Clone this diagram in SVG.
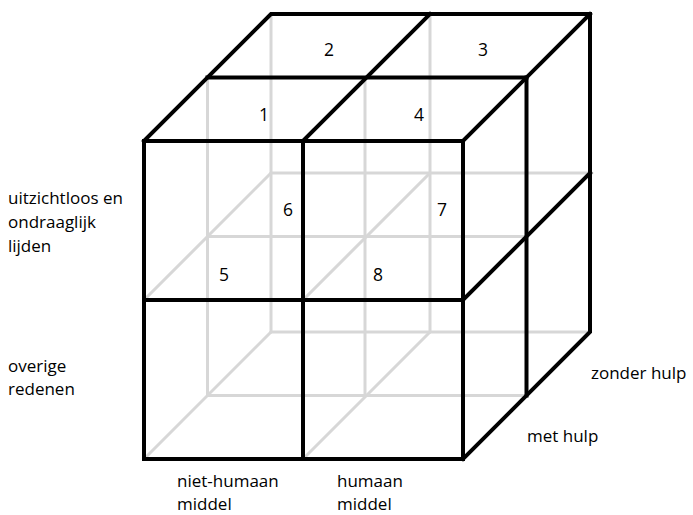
<svg xmlns="http://www.w3.org/2000/svg" width="693" height="515" viewBox="0 0 693 515">
<style>
.hid{stroke:#d7d7d7;stroke-width:3;fill:none;stroke-linecap:round}
.vis{stroke:#000;stroke-width:4;fill:none;stroke-linecap:square;stroke-linejoin:miter}
.lbl{font-family:"Open Sans","Liberation Sans",sans-serif;font-size:17px;fill:#000}
.num{font-family:"Open Sans","Liberation Sans",sans-serif;font-size:17.5px;fill:#000;text-anchor:middle}
</style>
<rect width="693" height="515" fill="#fff"/>
<g id="hidden-edges" class="hid">
<line x1="207.5" y1="77.5" x2="207.5" y2="395.5"/>
<line x1="365" y1="77.5" x2="365" y2="395.5"/>
<line x1="271" y1="14" x2="271" y2="332"/>
<line x1="430" y1="14" x2="430" y2="332"/>
<line x1="207.5" y1="236.5" x2="526.5" y2="236.5"/>
<line x1="207.5" y1="395.5" x2="526.5" y2="395.5"/>
<line x1="271" y1="173" x2="592" y2="173"/>
<line x1="271" y1="332" x2="590" y2="332"/>
<line x1="144" y1="300" x2="271" y2="173"/>
<line x1="303" y1="300" x2="430" y2="173"/>
<line x1="144" y1="459" x2="271" y2="332"/>
<line x1="303" y1="459" x2="430" y2="332"/>
</g>
<g id="visible-edges" class="vis">
<rect x="144" y="141" width="319" height="318"/>
<line x1="303" y1="141" x2="303" y2="459"/>
<line x1="144" y1="300" x2="463" y2="300"/>
<polyline points="144,141 271,14 590,14 590,332 463,459"/>
<line x1="303" y1="141" x2="430" y2="14"/>
<line x1="463" y1="141" x2="590" y2="14"/>
<line x1="207.5" y1="77.5" x2="526.5" y2="77.5"/>
<line x1="526.5" y1="77.5" x2="526.5" y2="395.5"/>
<line x1="463" y1="300" x2="590" y2="173"/>
</g>
<g id="cell-numbers" class="num">
<text x="329" y="56">2</text>
<text x="483" y="56">3</text>
<text x="264" y="121">1</text>
<text x="419" y="121">4</text>
<text x="288" y="216">6</text>
<text x="442" y="216">7</text>
<text x="224" y="281">5</text>
<text x="378" y="281">8</text>
</g>
<g id="axis-labels" class="lbl">
<text x="8" y="204">uitzichtloos en</text>
<text x="8" y="228">ondraaglijk</text>
<text x="8" y="252">lijden</text>
<text x="8" y="372">overige</text>
<text x="8" y="395">redenen</text>
<text x="591" y="379">zonder hulp</text>
<text x="527" y="442">met hulp</text>
<text x="177" y="487">niet-humaan</text>
<text x="177" y="510">middel</text>
<text x="337" y="487">humaan</text>
<text x="337" y="510">middel</text>
</g>
</svg>
